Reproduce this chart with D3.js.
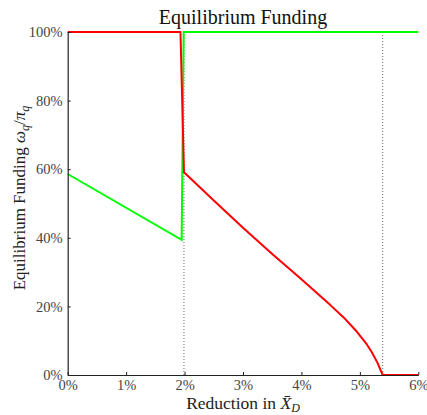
<!DOCTYPE html>
<html>
<head>
<meta charset="utf-8">
<script src="https://cdn.jsdelivr.net/npm/d3@7"></script>
<style>
  body { margin: 0; background: #fff; }
  svg text { font-family: "Liberation Serif", "DejaVu Serif", serif; }
</style>
</head>
<body>
<svg id="chart" width="427" height="415"></svg>
<script>
// values (percent)
var redX   = [0, 1.93, 1.99, 2.5, 3.0, 3.5, 4.0, 4.5, 4.75, 4.95, 5.1, 5.2, 5.3, 5.39, 6];
var redY   = [100, 100, 59.1, 50.9, 42.9, 35.3, 27.9, 20.3, 16.3, 12.6, 9.4, 6.8, 3.6, 0, 0];
var greenX = [0, 1.95, 1.985, 6];
var greenY = [58.6, 39.4, 100, 100];
var refX   = [1.99, 5.39];
var xTicks = [0, 1, 2, 3, 4, 5, 6];
var yTicks = [0, 20, 40, 60, 80, 100];

var svg = d3.select('#chart');
var plotL = 67.7, plotR = 418.3, plotT = 32, plotB = 375;

var x = d3.scaleLinear().domain([0, 6]).range([plotL, plotR]);
var y = d3.scaleLinear().domain([0, 100]).range([plotB, plotT]);

// dotted reference lines
svg.append('g').selectAll('line')
  .data(refX)
  .enter().append('line')
    .attr('x1', function(d) { return x(d); })
    .attr('x2', function(d) { return x(d); })
    .attr('y1', y(0))
    .attr('y2', y(100))
    .style('stroke', '#666')
    .style('stroke-width', 1)
    .style('stroke-dasharray', '1,2');

var line = d3.line()
  .x(function(d) { return x(d[0]); })
  .y(function(d) { return y(d[1]); });

svg.append('path')
  .datum(d3.zip(greenX, greenY))
  .attr('d', line)
  .style('fill', 'none')
  .style('stroke', '#00ff00')
  .style('stroke-width', 2);

svg.append('path')
  .datum(d3.zip(redX, redY))
  .attr('d', line)
  .style('fill', 'none')
  .style('stroke', '#ff0000')
  .style('stroke-width', 2)
  .style('stroke-linejoin', 'round');

// axes, ticks pointing inward
var fmt = function(d) { return d + '%'; };
var xAxis = svg.append('g')
  .attr('transform', 'translate(0,' + plotB + ')')
  .call(d3.axisBottom(x).tickValues(xTicks).tickFormat(fmt).tickSizeInner(-3).tickSizeOuter(0).tickPadding(5));
var yAxis = svg.append('g')
  .attr('transform', 'translate(' + plotL + ',0)')
  .call(d3.axisLeft(y).tickValues(yTicks).tickFormat(fmt).tickSizeInner(-3).tickSizeOuter(0).tickPadding(5));

[xAxis, yAxis].forEach(function(a) {
  a.select('.domain').style('stroke', '#222').style('stroke-width', 1.2);
  a.selectAll('.tick line').style('stroke', '#222');
  a.selectAll('.tick text')
    .style('font-family', '"Liberation Serif", serif')
    .style('font-size', '14.5px')
    .style('fill', '#444');
});

// title
svg.append('text')
  .attr('x', (plotL + plotR) / 2)
  .attr('y', 24)
  .attr('text-anchor', 'middle')
  .style('font-size', '20px')
  .style('fill', '#111')
  .text('Equilibrium Funding');

// x label
var xl = svg.append('text')
  .attr('x', (plotL + plotR) / 2)
  .attr('y', 409)
  .attr('text-anchor', 'middle')
  .style('font-size', '17.5px')
  .style('fill', '#222');
xl.append('tspan').text('Reduction in ');
xl.append('tspan').style('font-style', 'italic').text('X\u0304');
xl.append('tspan').attr('dy', 3).style('font-size', '12px').style('font-style', 'italic').text('D');

// y label
var yl = svg.append('text')
  .attr('transform', 'translate(25,198) rotate(-90)')
  .attr('text-anchor', 'middle')
  .style('font-size', '17px')
  .style('fill', '#222');
yl.append('tspan').text('Equilibrium Funding ');
yl.append('tspan').style('font-style', 'italic').text('\u03c9');
yl.append('tspan').attr('dy', 4).style('font-size', '12px').style('font-style', 'italic').text('q');
yl.append('tspan').attr('dy', -4).text('/');
yl.append('tspan').style('font-style', 'italic').text('\u03c0');
yl.append('tspan').attr('dy', 4).style('font-size', '12px').style('font-style', 'italic').text('q');
</script>
</body>
</html>
